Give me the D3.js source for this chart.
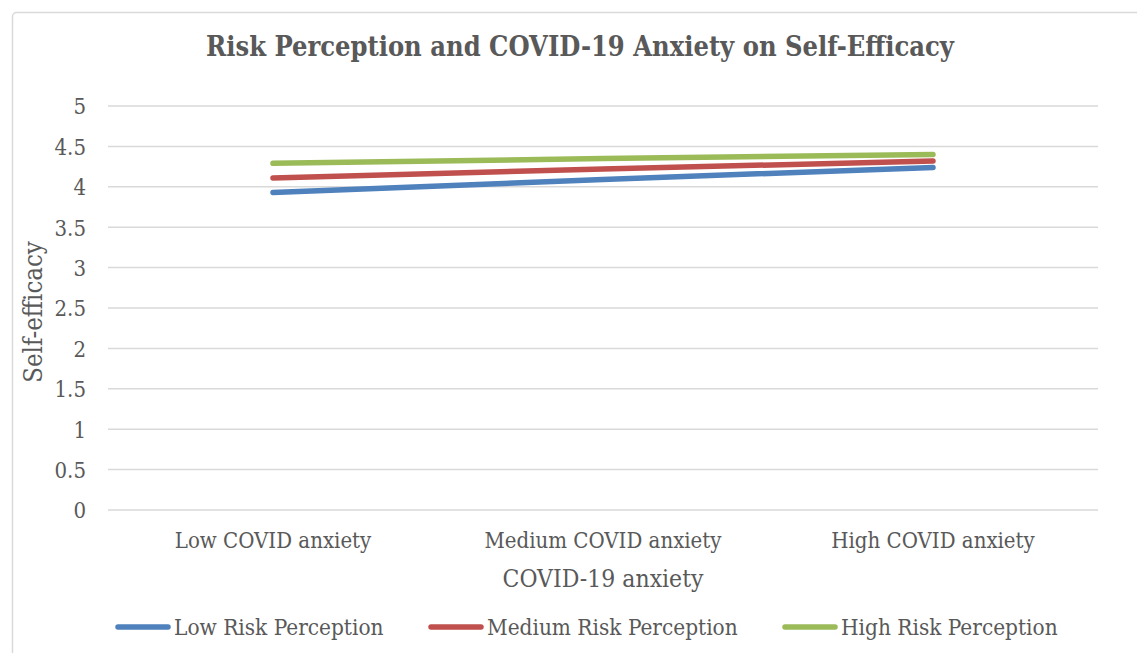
<!DOCTYPE html>
<html>
<head>
<meta charset="utf-8">
<script src="https://cdn.jsdelivr.net/npm/d3@7"></script>
<style>
  body { margin: 0; background: #fff; }
  svg text { font-family: "DejaVu Serif Condensed", "DejaVu Serif", serif; font-stretch: condensed; fill: #595959; }
</style>
</head>
<body>
<div id="chart"></div>
<script>
const categories = ['Low COVID anxiety', 'Medium COVID anxiety', 'High COVID anxiety']
const seriesNames = ['Low Risk Perception', 'Medium Risk Perception', 'High Risk Perception']
const lowRisk = [3.93, 4.09, 4.24]
const mediumRisk = [4.11, 4.22, 4.32]
const highRisk = [4.29, 4.35, 4.40]
const yTicks = [0, 0.5, 1, 1.5, 2, 2.5, 3, 3.5, 4, 4.5, 5]
const colors = ['#4F81BD', '#C0504D', '#9BBB59']

const W = 1137, H = 653
const plot = {left: 108, right: 1098, top: 106, bottom: 510}

const svg = d3.select('#chart').append('svg')
    .attr('width', W)
    .attr('height', H)

// chart frame
svg.append('rect')
    .attr('x', 12.5).attr('y', 12.5)
    .attr('width', W + 20).attr('height', H + 20)
    .attr('rx', 4)
    .attr('fill', '#fff')
    .attr('stroke', '#d9d9d9')
    .attr('stroke-width', 1.5)

const x = d3.scaleBand().domain(categories).range([plot.left, plot.right])
const y = d3.scaleLinear().domain([0, 5]).range([plot.bottom, plot.top])

// gridlines
svg.append('g').selectAll('line')
    .data(yTicks)
    .enter().append('line')
    .attr('x1', plot.left).attr('x2', plot.right)
    .attr('y1', d => y(d)).attr('y2', d => y(d))
    .attr('stroke', '#d9d9d9')
    .attr('stroke-width', 1.5)

// y axis labels
const yAxis = svg.append('g')
    .attr('transform', 'translate(' + (plot.left - 22) + ',0)')
    .call(d3.axisLeft(y).tickValues(yTicks).tickSize(0).tickPadding(0).tickFormat(d3.format('')))
yAxis.select('.domain').remove()
yAxis.attr('font-family', null).attr('font-size', null)
yAxis.selectAll('text')
    .attr('font-size', 22)
    .attr('dy', '0.36em')

// x axis labels
const xAxis = svg.append('g')
    .attr('transform', 'translate(0,' + plot.bottom + ')')
    .call(d3.axisBottom(x).tickSize(0).tickPadding(0))
xAxis.select('.domain').remove()
xAxis.attr('font-family', null).attr('font-size', null)
xAxis.selectAll('text')
    .attr('font-size', 22)
    .attr('y', 38)
    .attr('dy', null)

// titles
svg.append('text')
    .attr('x', 580).attr('y', 56)
    .attr('text-anchor', 'middle')
    .attr('font-size', 27)
    .attr('font-weight', 'bold')
    .text('Risk Perception and COVID-19 Anxiety on Self-Efficacy')

svg.append('text')
    .attr('x', 603).attr('y', 587)
    .attr('text-anchor', 'middle')
    .attr('font-size', 24.5)
    .text('COVID-19 anxiety')

svg.append('text')
    .attr('transform', 'translate(42,' + 312 + ') rotate(-90)')
    .attr('text-anchor', 'middle')
    .attr('font-size', 25.5)
    .text('Self-efficacy')

// series lines
const series = [lowRisk, mediumRisk, highRisk]
const line = d3.line()
    .x((d, i) => x(categories[i]) + x.bandwidth() / 2)
    .y(d => y(d))

svg.append('g').selectAll('path')
    .data(series)
    .enter().append('path')
    .attr('d', line)
    .attr('fill', 'none')
    .attr('stroke', (d, i) => colors[i])
    .attr('stroke-width', 5.5)
    .attr('stroke-linecap', 'round')

// legend
const legendX = [118, 431, 785]
const legend = svg.append('g').selectAll('g')
    .data(seriesNames)
    .enter().append('g')
    .attr('transform', (d, i) => 'translate(' + legendX[i] + ',627)')

legend.append('line')
    .attr('x1', 0).attr('x2', 50)
    .attr('stroke', (d, i) => colors[i])
    .attr('stroke-width', 5.5)
    .attr('stroke-linecap', 'round')

legend.append('text')
    .attr('x', 56).attr('y', 8)
    .attr('font-size', 22.4)
    .text(d => d)
</script>
</body>
</html>
